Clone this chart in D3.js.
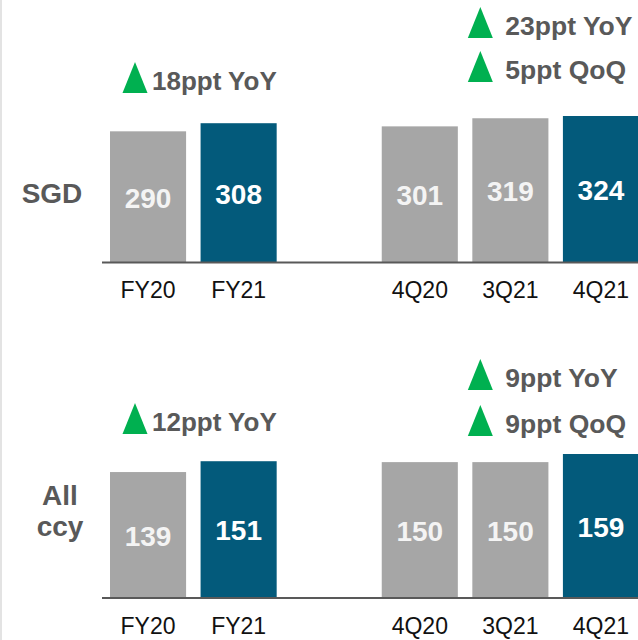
<!DOCTYPE html>
<html>
<head>
<meta charset="utf-8">
<script src="https://cdn.jsdelivr.net/npm/d3@7"></script>
<style>
  body { margin: 0; background: #fff; }
  svg { display: block; font-family: "Liberation Sans", Arial, sans-serif; }
</style>
</head>
<body>
<svg id="chart" width="638" height="640"></svg>
<script>
// data
var categories = ['FY20', 'FY21', '4Q20', '3Q21', '4Q21'];
var sgdValues = [290, 308, 301, 319, 324];
var allCcyValues = [139, 151, 150, 150, 159];
var highlighted = ['FY21', '4Q21'];

var sgdFyNotes = ['18ppt YoY'];
var sgdQNotes = ['23ppt YoY', '5ppt QoQ'];
var ccyFyNotes = ['12ppt YoY'];
var ccyQNotes = ['9ppt YoY', '9ppt QoQ'];

var grey = '#a6a6a6';
var blue = '#035a7b';
var textGrey = '#595959';

var svg = d3.select('#chart');

// left edge rule
svg.append('rect')
  .attr('x', 0).attr('y', 0)
  .attr('width', 2).attr('height', 640)
  .attr('fill', '#e3e3e3');

// a blank slot between the FY pair and the quarters
var slots = ['FY20', 'FY21', '_gap', '4Q20', '3Q21', '4Q21'];
var x = d3.scaleBand()
  .domain(slots)
  .range([110, 639])
  .paddingInner(0.16)
  .paddingOuter(0);

function triangle(g, cx, bottom) {
  g.append('path')
    .attr('d', 'M' + (cx - 12.5) + ',' + bottom + 'L' + cx + ',' + (bottom - 31) + 'L' + (cx + 12.5) + ',' + bottom + 'Z')
    .attr('fill', '#00b050');
}

function panel(opts) {
  var g = svg.append('g');

  var y = d3.scaleLinear()
    .domain([0, d3.max(opts.values)])
    .range([opts.base, opts.top]);

  var data = categories.map(function(c, i) { return { cat: c, value: opts.values[i] }; });

  g.selectAll('rect.bar')
    .data(data)
    .enter()
    .append('rect')
    .attr('class', 'bar')
    .attr('x', function(d) { return x(d.cat); })
    .attr('width', x.bandwidth())
    .attr('y', function(d) { return y(d.value); })
    .attr('height', function(d) { return y(0) - y(d.value); })
    .attr('fill', function(d) { return highlighted.indexOf(d.cat) >= 0 ? blue : grey; });

  // baseline
  g.append('line')
    .attr('x1', 102).attr('x2', 638)
    .attr('y1', y(0) + 0.5).attr('y2', y(0) + 0.5)
    .attr('stroke', textGrey)
    .attr('stroke-width', 2);

  // value labels
  g.selectAll('text.val')
    .data(data)
    .enter()
    .append('text')
    .attr('class', 'val')
    .attr('x', function(d) { return x(d.cat) + x.bandwidth() / 2; })
    .attr('y', function(d) { return (y(d.value) + y(0)) / 2 + 11; })
    .attr('text-anchor', 'middle')
    .attr('font-size', 28)
    .attr('font-weight', 'bold')
    .attr('fill', function(d) { return highlighted.indexOf(d.cat) >= 0 ? '#ffffff' : '#f4f4f4'; })
    .text(function(d) { return d.value; });

  // category labels
  g.selectAll('text.cat')
    .data(categories)
    .enter()
    .append('text')
    .attr('class', 'cat')
    .attr('x', function(d) { return x(d) + x.bandwidth() / 2; })
    .attr('y', opts.base + 36)
    .attr('text-anchor', 'middle')
    .attr('font-size', 23)
    .attr('fill', '#111')
    .text(function(d) { return d; });

  // row label
  var lab = g.append('text')
    .attr('text-anchor', 'middle')
    .attr('font-size', 28)
    .attr('font-weight', 'bold')
    .attr('fill', textGrey);
  opts.label.forEach(function(t, i) {
    lab.append('tspan')
      .attr('x', opts.labelX)
      .attr('y', opts.labelY + i * 31)
      .text(t);
  });

  // FY change notes
  opts.fyNotes.forEach(function(t, i) {
    var b = opts.fyNoteY[i];
    triangle(g, x('FY20') + 25, b + 3);
    g.append('text')
      .attr('x', x('FY20') + 42)
      .attr('y', b)
      .attr('font-size', 26)
      .attr('font-weight', 'bold')
      .attr('fill', textGrey)
      .text(t);
  });

  // quarter change notes
  opts.qNotes.forEach(function(t, i) {
    var b = opts.qNoteY[i];
    triangle(g, x('3Q21') + 8, b + 3);
    g.append('text')
      .attr('x', x('3Q21') + 33)
      .attr('y', b)
      .attr('font-size', 26.5)
      .attr('font-weight', 'bold')
      .attr('fill', textGrey)
      .text(t);
  });
}

panel({
  values: sgdValues,
  base: 262, top: 116,
  label: ['SGD'], labelX: 52, labelY: 203,
  fyNotes: sgdFyNotes, fyNoteY: [90],
  qNotes: sgdQNotes, qNoteY: [35, 79]
});

panel({
  values: allCcyValues,
  base: 597.5, top: 454,
  label: ['All', 'ccy'], labelX: 60, labelY: 505,
  fyNotes: ccyFyNotes, fyNoteY: [431],
  qNotes: ccyQNotes, qNoteY: [387, 433]
});
</script>
</body>
</html>
